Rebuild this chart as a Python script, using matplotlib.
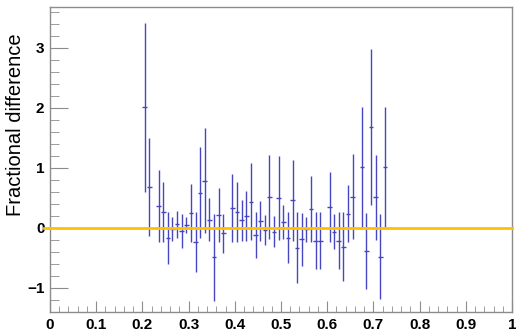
import numpy as np
import matplotlib.pyplot as plt
from matplotlib.ticker import MultipleLocator, FuncFormatter

# bin centres (empty bins left out) and fractional difference with errors
x = [0.205, 0.215, 0.235, 0.245, 0.255, 0.265, 0.275, 0.285, 0.295, 0.305,
     0.315, 0.325, 0.335, 0.345, 0.355, 0.365, 0.375, 0.395, 0.405, 0.415,
     0.425, 0.435, 0.445, 0.455, 0.465, 0.475, 0.485, 0.495, 0.505, 0.515,
     0.525, 0.535, 0.545, 0.555, 0.565, 0.575, 0.585, 0.605, 0.615, 0.625,
     0.635, 0.645, 0.655, 0.675, 0.685, 0.695, 0.705, 0.715, 0.725]
frac = [2.01, 0.68, 0.36, 0.26, -0.17, -0.02, 0.06, -0.05, 0.05, 0.25,
        -0.24, 0.59, 0.79, 0.14, -0.49, 0.22, -0.09, 0.33, 0.26, 0.13,
        0.20, 0.44, -0.12, 0.12, -0.03, 0.52, -0.06, 0.50, 0.10, -0.16,
        0.46, -0.33, -0.19, -0.02, 0.31, -0.21, -0.21, 0.35, -0.06, -0.21,
        -0.31, 0.24, 0.52, 1.02, -0.38, 1.68, 0.51, -0.48, 1.02]
err = [1.41, 0.81, 0.60, 0.50, 0.43, 0.20, 0.23, 0.28, 0.14, 0.49,
       0.50, 0.76, 0.88, 0.36, 0.72, 0.45, 0.33, 0.57, 0.50, 0.34,
       0.42, 0.64, 0.38, 0.33, 0.25, 0.70, 0.26, 0.70, 0.29, 0.42,
       0.67, 0.59, 0.44, 0.21, 0.55, 0.47, 0.47, 0.58, 0.29, 0.47,
       0.58, 0.48, 0.71, 1.00, 0.63, 1.30, 0.71, 0.71, 1.00]
bin_width = 0.01

plt.rcParams['font.family'] = ['Liberation Sans', 'DejaVu Sans']

fig = plt.figure(figsize=(5.16, 3.31), dpi=100)
ax = fig.add_axes([50/516, 19/331, 462/516, 305/331])

ax.errorbar(x, frac, yerr=err, xerr=bin_width/2, fmt='none',
            ecolor='#4646c0', elinewidth=1.0, capsize=0, zorder=3)
ax.plot([-0.012, 1.0], [0, 0], color='#ffc000', lw=2.0, clip_on=False, zorder=4)

ax.set_xlim(0, 1)
ax.set_ylim(-1.4, 3.68)
ax.xaxis.set_major_locator(MultipleLocator(0.1))
ax.xaxis.set_minor_locator(MultipleLocator(0.02))
ax.yaxis.set_major_locator(MultipleLocator(1))
ax.yaxis.set_minor_locator(MultipleLocator(0.2))
ax.xaxis.set_major_formatter(FuncFormatter(lambda v, p: f"{round(v, 1):g}"))
ax.yaxis.set_major_formatter(FuncFormatter(lambda v, p: f"{int(round(v))}".replace('-', '\u2212')))

for s in ax.spines.values():
    s.set_color('#8c8c8c')
    s.set_linewidth(1.0)
ax.tick_params(axis='both', which='both', direction='in', color='#8c8c8c',
               top=False, right=False)
ax.tick_params(axis='x', which='major', length=8, labelsize=11, pad=4)
ax.tick_params(axis='x', which='minor', length=4.5)
ax.tick_params(axis='y', which='major', length=13, labelsize=11, pad=4)
ax.tick_params(axis='y', which='minor', length=6.5)
for lab in ax.get_xticklabels() + ax.get_yticklabels():
    lab.set_fontweight('bold')

fig.text(16/516, 1 - 125/331, 'Fractional difference', rotation=90,
         ha='center', va='center', fontsize=14.5)

fig.savefig('out.png', dpi=100)
